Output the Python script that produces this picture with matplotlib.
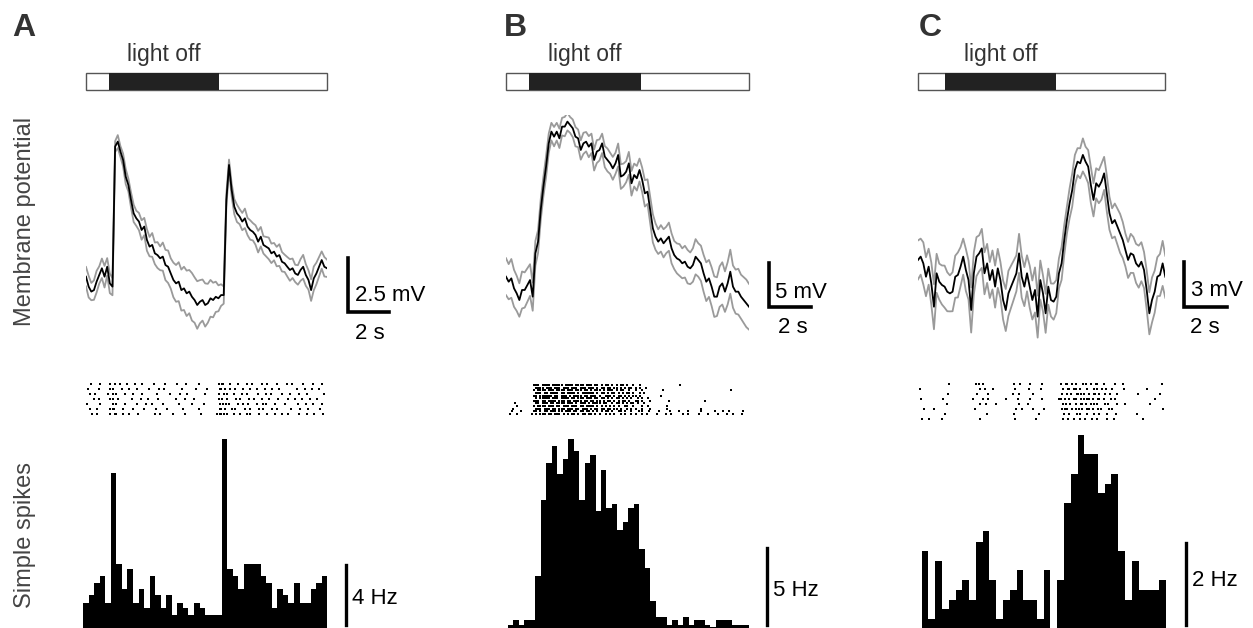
import numpy as np
import matplotlib.pyplot as plt
from matplotlib.transforms import blended_transform_factory

plt.rcParams['font.family'] = ['Liberation Sans', 'DejaVu Sans']

# ---------------- data ----------------
duration = 11.5          # s, length of one sweep
light_off = {'A': (1.10, 6.33), 'B': (1.10, 6.38), 'C': (1.26, 6.42)}

# mean membrane potential (mV) and s.e.m. (mV), evenly sampled over the sweep
vm_a = [1.08, 0.62, 0.39, 0.46, 0.85, 1.16, 1.47, 1.08, 1.54, 0.77,
        0.62, 7.10, 7.33, 6.87, 6.48, 5.71, 5.32, 4.63, 4.01, 3.78,
        3.63, 3.24, 3.40, 2.78, 2.47, 2.55, 2.16, 2.08, 1.93, 2.01,
        1.62, 1.54, 1.23, 0.93, 0.77, 0.85, 0.46, 0.54, 0.31, 0.39,
        0.15, 0.00, -0.23, -0.08, 0.00, -0.23, -0.15, 0.08, 0.00, 0.15,
        0.08, 0.23, 0.23, 4.63, 6.25, 5.09, 4.32, 4.01, 3.86, 3.63,
        3.78, 3.40, 3.24, 3.16, 3.01, 2.70, 2.93, 2.55, 2.47, 2.39,
        2.16, 2.24, 2.01, 2.08, 1.77, 1.70, 1.54, 1.39, 1.47, 1.23,
        1.16, 1.39, 1.54, 1.16, 0.93, 0.46, 1.00, 1.23, 1.54, 1.85,
        1.54, 1.47]
sem_a = [0.45, 0.5, 0.4, 0.45, 0.5, 0.4, 0.45, 0.5, 0.4, 0.45, 0.4,
         0.25, 0.3, 0.25, 0.3, 0.35, 0.3, 0.35, 0.4, 0.35, 0.4,
         0.45, 0.4, 0.5, 0.45, 0.55, 0.5, 0.6, 0.55, 0.65, 0.7,
         0.75, 0.7, 0.8, 0.85, 0.9, 0.95, 1.0, 1.05, 1.0, 1.1,
         1.05, 1.1, 1.0, 0.95, 1.0, 0.9, 0.85, 0.8, 0.7, 0.6, 0.5, 0.4,
         0.3, 0.25, 0.3, 0.35, 0.4, 0.35, 0.4, 0.45, 0.4, 0.45,
         0.4, 0.45, 0.5, 0.45, 0.4, 0.45, 0.5, 0.45, 0.4, 0.45,
         0.5, 0.45, 0.4, 0.45, 0.5, 0.45, 0.4, 0.45, 0.5, 0.55,
         0.5, 0.45, 0.5, 0.55, 0.5, 0.45, 0.4, 0.45, 0.4]

vm_b = [2.65, 2.08, 2.46, 1.33, 0.76, 0.00, 1.14, 1.14, 1.70, 2.27,
        0.38, 5.30, 6.63, 10.23, 12.88, 15.15, 17.80, 19.13, 18.56, 19.13,
        18.37, 19.70, 19.70, 20.27, 19.89, 19.51, 18.56, 18.37, 17.05, 17.80,
        17.99, 17.42, 17.80, 15.91, 16.86, 17.05, 17.80, 16.29, 15.91, 15.53,
        14.96, 15.53, 16.48, 14.02, 14.20, 14.58, 15.53, 13.26, 14.20, 13.83,
        14.77, 13.64, 12.12, 12.31, 10.23, 8.14, 7.20, 6.63, 7.01, 6.44,
        6.82, 7.20, 5.87, 5.11, 4.73, 4.55, 4.17, 4.36, 3.79, 3.60,
        3.98, 4.92, 4.55, 4.17, 3.03, 2.08, 2.46, 1.52, 0.38, 0.38,
        1.52, 1.89, 0.95, 1.89, 3.22, 1.52, 0.95, 0.95, 0.38, 0.00,
        -0.38, -0.76]
sem_b = [2.1, 2.0, 2.2, 2.1, 2.0, 1.9, 2.1, 2.0, 1.9, 1.8, 1.6,
         1.4, 1.3, 1.2, 1.1, 1.2, 1.1, 1.0, 1.1, 1.0, 1.1,
         1.0, 1.1, 1.0, 0.9, 1.0, 1.1, 1.0, 1.1, 1.2, 1.1,
         1.2, 1.1, 1.2, 1.3, 1.2, 1.1, 1.2, 1.3, 1.2, 1.3,
         1.2, 1.3, 1.4, 1.3, 1.2, 1.3, 1.4, 1.3, 1.4, 1.3,
         1.4, 1.5, 1.4, 1.5, 1.6, 1.5, 1.4, 1.5, 1.6, 1.5,
         1.6, 1.7, 1.6, 1.7, 1.8, 1.7, 1.8, 1.9, 1.8, 1.9,
         2.0, 1.9, 2.0, 2.1, 2.2, 2.1, 2.2, 2.3, 2.2, 2.3,
         2.4, 2.3, 2.4, 2.5, 2.4, 2.5, 2.6, 2.5, 2.6, 2.7, 2.6]

vm_c = [1.56, 1.78, 1.33, 0.44, 1.11, 0.00, -1.56, 0.67, 0.11, -0.11,
        -0.22, -0.56, -0.67, -0.56, 0.44, 0.56, 1.11, 1.78, 0.89, 0.22,
        -1.78, 0.67, 1.78, 2.00, 2.33, 0.67, 1.33, 0.22, 0.89, -0.22,
        1.00, 0.22, -1.11, -1.78, -0.67, -0.22, 0.22, 0.67, 2.00, 0.44,
        -0.22, 0.67, -0.22, -1.11, -0.44, -2.22, 0.22, -0.67, -2.00, -0.22,
        -1.11, -1.22, -0.89, 0.67, 1.33, 2.89, 4.22, 5.33, 6.22, 7.56,
        8.11, 8.00, 8.56, 8.11, 7.78, 6.56, 5.56, 6.67, 6.44, 6.78,
        7.33, 6.00, 4.67, 4.00, 4.22, 3.78, 3.33, 2.89, 2.22, 1.56,
        2.00, 1.89, 1.33, 1.11, 1.44, 0.89, -0.44, -2.00, -1.11, -0.56,
        0.44, 0.56, 1.33, 0.44]
sem_c = [1.3, 1.2, 1.4, 1.3, 1.2, 1.4, 1.5, 1.3, 1.2, 1.3,
         1.4, 1.3, 1.2, 1.3, 1.4, 1.5, 1.3, 1.2, 1.4, 1.3,
         1.5, 1.4, 1.3, 1.2, 1.3, 1.4, 1.3, 1.2, 1.3, 1.4,
         1.3, 1.2, 1.3, 1.4, 1.5, 1.4, 1.3, 1.2, 1.3, 1.4,
         1.3, 1.2, 1.4, 1.3, 1.5, 1.4, 1.3, 1.2, 1.3, 1.2,
         1.1, 1.2, 1.1, 1.0, 1.1, 1.0, 0.9, 1.0, 1.1, 1.0,
         0.9, 1.0, 1.1, 1.0, 1.1, 1.2, 1.1, 1.0, 1.1, 1.2,
         1.1, 1.2, 1.1, 1.0, 1.1, 1.2, 1.3, 1.2, 1.1, 1.2,
         1.3, 1.2, 1.3, 1.4, 1.3, 1.2, 1.3, 1.4, 1.5, 1.4,
         1.3, 1.4, 1.5, 1.4]

# spike rasters: one string per trial, one character per 0.1 s bin;
# '|' = spike early in the bin, ':' = spike late in the bin
raster_bin = 0.1
spike_offset = {'|': 0.3, ':': 0.75}
raster_a = [
    "..|...:... .|.:..|..: ...|..:... ..|....:.. ...|...:.. ...:...... ...|:|..:. ..|...:..| ...:..|... .|...:..|. ...:....|. ..:..",
    ":.....|... .|:....|.. :...|..... |...:..|.. .....:.... ..|....:.. ...:|.|.:. .|..:...|. .:...|..:. ..|....... :...|..:.. .|...",
    ".:..|..... |.:.|...:. ..|...:... ...:...... |...:...|. ......:... ...|.:.|.. :...|.:... ..|..:..|. ...:...|.. .:...|.... ...:.",
    "...:..|... .|:..|.... .:....|..: ....|..... ..:....|.. .:........ ...|:..|.. .:.|...:.. |..:...|.. .:....|..: ...|..:... |....",
    "|.....:... ..:.|...:. ....|...:. .|....:... ....|..... :.....|... ...:.|:.|. ..|.:..|.. .:..|:.... |...:..... .|..:...|. ..:..",
    ".:...|.... .|:|...:.. ..|....:.. ...|....:. ......|... ...:...... ...:|.|..: .|...:..|. ..:.|...:. .|.....:.. ..|..:.... .:...",
    "..:..|.... .|.:|..:.. |...:..... ..:..|.... .:.....|.. ....:..... ..|:|:.|.. :..|..:.|. ..:...|... |..:..|... .:...|..:. ...|.",
]
raster_b = [
    ".......... ...|||.||| |.|||||.|| ||.||||.|| |.||.|.||. |.|.||.|.. |..|...... .......... ..|....... .......... .......... .....",
    ".......... ....||||.| ||.|||.||| .|||.|||.| ||.|.||.|| .||.|.|.|| .|.|..|... .......... .......... .......... .......... .....",
    ".......... ...|.||||. |||.||||.| ||.|||.||. |.|||.|.|| |.|.||..|. .|..|..... ....|..... .......... .......... ......|... .....",
    ".......... ....|||.|| .||||.||.| |||.|.|||| ||.|.||.|. ||.|.|.||. |..|.|.... .......... .......... .......... .......... .....",
    ".......... ...||.|||| ||.||.|||. |.||||.||. |||.|..||| .|.||.|.|. ||.|...... ...|...... .......... .......... .......... .....",
    ".......... ....|.|||| |.|||.|||| .||.|||.|| |.||.||.|. |.||.|.|.| ..|.|..|.. .......... .......... .......... .......... .....",
    ".......... ...|||.||. ||||.|||.| |.||||.||. ||.||.|.|| .|.|.||.|. .||.|...|. .......|.. .......... ....|..... .......... .....",
    "....|..... ....||.||| .||.||||.| ||.|.|||.| .||||.||.. |.||.|.|.| |.|..|.... .......... .......... .......... .......... .....",
    ".....|.... ...|.||||. |||.||.||| .|||.||.|| ||.|.|.|.| .|.|..||.. |...|..|.. ......|... .......... .......... .......... .....",
    "...|...... ....|||.|| |.||.|||.| ||.||.|||. |.||.||.|| .||.|..|.| .|..|...|. ......|... .......... ..|....... .......... .....",
    "..:....|.. ...||.|.|| .|||.||.|| |.||.||.|| .|.|.|.||. |..||.|..| ..:.|..:.. ..|....:.. .:....|... ..|.....:. ..:..|.... ..|..",
    ".:...|.... ..|.|.|||. ||.|||.|.| .||.|.||.| |.|.|..|.| .|..|.|..| .:..|.:... .|...:..|. ...:..|... .|...:.... |...:..|.. .:...",
]
raster_c = [
    ".......... ....|..... ......:.|. |......... ....:..|.. ..|....:.. ......|.:| .:.|..:.|. |.:|..|... .:...|.... .......... ...|.",
    ":......... .......... ........:. .|..:..... .....|.... .:.....|.. .......|.: |.:|.|..:. .:.|.:.|.. |....:.... ......|... .....",
    ".......... ...:...... .......|.. ..:....... ....|.:... ...|...... ......:..| .|.:|:.|.: .:|.|.:..| ..:....... ..|....... ..:..",
    ".|........ .:........ .....:.... |.:....... :.....|... ..|....:.. .....:|.|. |.:|.:.|:| .|.:|.|..: .:........ .......... |....",
    ".......... ...|...... ........:. .:....|... ......:... .|........ .......|:. :..|.:|.|. |:.|..:.|. ..:...|... .......:.. .....",
    "..:....|.. .......... ......|... .......... .....:..|. ...|....:. ......:.|| .:.|:.|.:| .|.:.|..:. |......... .......... ...:.",
    ".......... ..:....... .......... ..|....... ....:..... ......|... .......:.. |..:.|..:. .:..|..:.. ..|....... .:........ .....",
    ".:...|.... .|........ ........:. .......... .....|.... ....:..... .......|.: ..:..|.:.. :..|...:.. .|........ ....:..... .....",
]

# peri-stimulus spike rate histograms (Hz)
rate_a = [1.69, 2.18, 3.02, 3.47, 1.69, 10.36, 4.29, 2.58, 3.91, 1.69,
          2.58, 1.33, 3.47, 2.18, 1.33, 2.18, 0.89, 1.69, 1.33, 0.89,
          1.69, 1.33, 0.89, 0.89, 0.89, 12.58, 3.91, 3.47, 2.58, 4.29,
          4.29, 4.29, 3.47, 3.02, 1.33, 2.58, 2.18, 1.69, 3.02, 1.69,
          1.69, 2.58, 3.02, 3.47]
rate_b = [0.22, 0.5, 0.22, 0.5, 0.5, 3.38, 8.29, 10.74, 11.8, 10.0,
          11.0, 12.25, 11.47, 8.29, 10.74, 11.26, 7.6, 10.24, 7.79, 8.07,
          6.39, 6.88, 7.79, 8.07, 5.15, 3.92, 1.73, 0.71, 0.71, 0.22,
          0.5, 0.22, 0.71, 0.22, 0.5, 0.5, 0.22, 0.05, 0.5, 0.5,
          0.5, 0.22, 0.22, 0.22]
rate_c = [1.88, 0.23, 1.63, 0.47, 0.69, 0.93, 1.16, 0.69, 2.10, 2.36,
          1.16, 0.23, 0.69, 0.93, 1.41, 0.69, 0.69, 0.23, 1.41, 0.0,
          1.16, 3.05, 3.76, 4.70, 4.24, 4.24, 3.30, 3.52, 3.76, 1.88,
          0.69, 1.63, 0.93, 0.93, 0.93, 1.16]

scale_mv = {'A': 2.5, 'B': 5, 'C': 3}
scale_hz = {'A': 4, 'B': 5, 'C': 2}
scale_s = 2

# ---------------- layout (pixels of the 1253x628 canvas) ----------------
W, H = 1253, 628
fig = plt.figure(figsize=(W / 100, H / 100), dpi=100)


def px_axes(x0, y0, x1, y1):
    ax = fig.add_axes([x0 / W, 1 - y1 / H, (x1 - x0) / W, (y1 - y0) / H])
    ax.set_axis_off()
    return ax


def px_text(x, y, s, **kw):
    fig.text(x / W, 1 - y / H, s, **kw)


panels = [
    dict(key='A', vm=vm_a, sem=sem_a, raster=raster_a, rate=rate_a,
         letter=(24, 28), tx=(86, 327), ylim=(-2.08, 8.56), sb=(12.48, -0.56),
         mv_txt=(355, 295), s_txt=(355, 333), rast_y=(382, 416),
         hx=(83, 327.3), hmax=13.2, hsb=(1.0766, 0.2), hz_txt=(352, 598)),
    dict(key='B', vm=vm_b, sem=sem_b, raster=raster_b, rate=rate_b,
         letter=(515, 28), tx=(506, 749), ylim=(-5.11, 21.02), sb=(12.43, -0.80),
         mv_txt=(775, 292), s_txt=(778, 327), rast_y=(384, 415),
         hx=(508, 748.7), hmax=12.86, hsb=(1.076, 0.19), hz_txt=(773, 590)),
    dict(key='C', vm=vm_c, sem=sem_c, raster=raster_c, rate=rate_c,
         letter=(930, 28), tx=(918, 1165.3), ylim=(-4.11, 11.22), sb=(12.37, -1.58),
         mv_txt=(1191, 290), s_txt=(1190, 327), rast_y=(382, 421),
         hx=(921.7, 1165.7), hmax=4.83, hsb=(1.083, 0.07), hz_txt=(1192, 580)),
]

gray = '#9a9a9a'
txt_fs = 16

for p in panels:
    key = p['key']
    x0, x1 = p['tx']

    px_text(*p['letter'], key, fontsize=23, fontweight='bold', color='#333333',
            ha='center', va='center')

    # stimulus bar
    axs = px_axes(x0, 73, x1, 90)
    off0, off1 = light_off[key]
    axs.barh([0], [duration], left=0, height=1, color='white',
             edgecolor='#555555', linewidth=1.0, clip_on=False)
    axs.barh([0], [off1 - off0], left=off0, height=1, color='#222222',
             linewidth=0, clip_on=False)
    axs.set_xlim(0, duration)
    axs.set_ylim(-0.5, 0.5)
    px_text((x0 + (x1 - x0) * (off0 + off1) / 2 / duration), 55, 'light off',
            fontsize=16.5, color='#333333', ha='center', va='center')

    # membrane potential trace
    axt = px_axes(x0, 115, x1, 345)
    vm = np.array(p['vm'])
    sem = np.array(p['sem'])
    t = np.linspace(0, duration, len(vm))
    axt.plot(t, vm + sem, color=gray, lw=1.3)
    axt.plot(t, vm - sem, color=gray, lw=1.3)
    axt.plot(t, vm, color='black', lw=1.3)
    axt.set_xlim(0, duration)
    axt.set_ylim(*p['ylim'])
    sx, sy = p['sb']
    axt.plot([sx, sx, sx + scale_s], [sy + scale_mv[key], sy, sy],
             color='black', lw=2.6, clip_on=False, solid_joinstyle='miter')
    px_text(*p['mv_txt'], f"{scale_mv[key]} mV", fontsize=txt_fs,
            ha='left', va='center')
    px_text(*p['s_txt'], f"{scale_s} s", fontsize=txt_fs, ha='left', va='center')

    # raster
    axr = px_axes(x0, p['rast_y'][0], x1, p['rast_y'][1])
    rows = [r.replace(' ', '') for r in p['raster']]
    for i, row in enumerate(rows):
        ts = [(j + spike_offset[ch]) * raster_bin
              for j, ch in enumerate(row) if ch in spike_offset]
        if ts:
            axr.scatter(ts, [i] * len(ts), marker='s', s=2.6,
                        color='black', linewidths=0)
    axr.set_xlim(0, duration)
    axr.set_ylim(len(rows) - 0.5, -0.5)

    # rate histogram
    hx0, hx1 = p['hx']
    axh = px_axes(hx0, 430, hx1, 628)
    rate = p['rate']
    axh.stairs(rate, np.arange(len(rate) + 1), fill=True, color='black')
    axh.set_xlim(0, len(rate))
    axh.set_ylim(0, p['hmax'])
    bx, by = p['hsb']
    tr = blended_transform_factory(axh.transAxes, axh.transData)
    axh.plot([bx, bx], [by, by + scale_hz[key]], color='black', lw=2.4,
             transform=tr, clip_on=False)
    px_text(*p['hz_txt'], f"{scale_hz[key]} Hz", fontsize=txt_fs,
            ha='left', va='center')

px_text(25, 221, 'Membrane potential', fontsize=17, color='#444444',
        rotation=90, ha='center', va='center')
px_text(25, 535, 'Simple spikes', fontsize=17, color='#444444',
        rotation=90, ha='center', va='center')

fig.savefig('out.png', dpi=100)
